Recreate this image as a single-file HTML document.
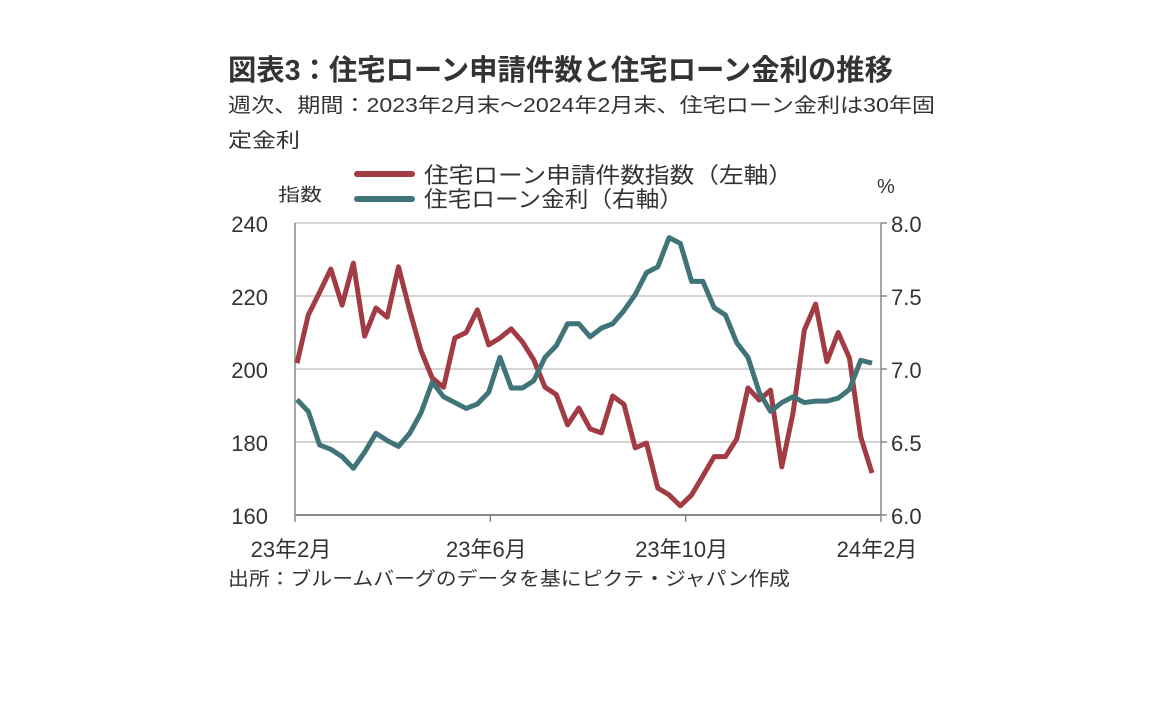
<!DOCTYPE html>
<html><head><meta charset="utf-8"><style>
html,body{margin:0;padding:0;background:#fff;}
svg text{font-family:"Liberation Sans","Noto Sans CJK JP",sans-serif;fill:#333;}
</style></head><body>
<svg id="chart" width="1152" height="720" xmlns="http://www.w3.org/2000/svg">
<text x="228" y="80" font-size="29" font-weight="bold" textLength="665" lengthAdjust="spacingAndGlyphs">図表3：住宅ローン申請件数と住宅ローン金利の推移</text>
<text x="228" y="112" font-size="20" textLength="707" lengthAdjust="spacingAndGlyphs">週次、期間：2023年2月末～2024年2月末、住宅ローン金利は30年固</text>
<text x="228" y="147" font-size="20" textLength="72" lengthAdjust="spacingAndGlyphs">定金利</text>
<line x1="357" y1="174" x2="412" y2="174" stroke="#a23c44" stroke-width="6" stroke-linecap="round"/>
<text x="424" y="183" font-size="22" textLength="369" lengthAdjust="spacingAndGlyphs">住宅ローン申請件数指数（左軸）</text>
<line x1="357" y1="199" x2="412" y2="199" stroke="#3f7478" stroke-width="6" stroke-linecap="round"/>
<text x="424" y="207" font-size="22" textLength="259" lengthAdjust="spacingAndGlyphs">住宅ローン金利（右軸）</text>
<text x="278" y="201" font-size="18" textLength="44" lengthAdjust="spacingAndGlyphs">指数</text>
<text x="877" y="193" font-size="20">%</text>
<g id="grid"></g>
<g id="axes"></g>
<g id="series"></g>
<text x="228" y="585" font-size="19" textLength="562" lengthAdjust="spacingAndGlyphs">出所：ブルームバーグのデータを基にピクテ・ジャパン作成</text>
</svg>
<script>
const applications=[201.6,214.8,221,227.4,217.5,229,209,216.7,214.2,228,216,205,197.5,195,208.5,210,216.2,206.6,208.5,211,207.4,202.5,195,193,184.7,189.3,183.6,182.5,192.6,190.3,178.4,179.7,167.4,165.5,162.5,165.5,170.7,176,176,180.8,194.8,191.5,194.2,173.2,188,210.7,217.8,202,210,203,181.4,171.5];
const rates=[6.79,6.71,6.48,6.45,6.40,6.32,6.43,6.56,6.51,6.47,6.56,6.70,6.91,6.81,6.77,6.73,6.76,6.84,7.08,6.87,6.87,6.92,7.08,7.16,7.31,7.31,7.22,7.28,7.31,7.40,7.51,7.66,7.70,7.90,7.86,7.60,7.60,7.42,7.37,7.18,7.08,6.84,6.71,6.77,6.81,6.77,6.78,6.78,6.80,6.86,7.06,7.04];
const leftTicks=[160,180,200,220,240];
const rightTicks=["6.0","6.5","7.0","7.5","8.0"];
const xLabels=["23年2月","23年6月","23年10月","24年2月"];
const NS="http://www.w3.org/2000/svg";
const X0=295,X1=881,Y0=515,Y1=223;
const yL=v=>Y0-(v-160)/80*(Y0-Y1);
const yR=v=>Y0-(v-6)/2*(Y0-Y1);
const n=applications.length;
const xi=i=>297+i*(872-297)/(n-1);
function mk(tag,attrs,parent){const e=document.createElementNS(NS,tag);for(const k in attrs)e.setAttribute(k,attrs[k]);parent.appendChild(e);return e;}
const grid=document.getElementById('grid'),axes=document.getElementById('axes'),series=document.getElementById('series');
leftTicks.forEach((t,i)=>{
  const y=yL(t);
  if(i>0){const g=mk('line',{x1:X0,x2:X1,y1:y,y2:y,stroke:'#d4d4d4','stroke-width':2},grid);
  
  }
  const tl=mk('text',{x:268,y:y+9,'font-size':22,'text-anchor':'end'},axes);tl.textContent=t;
  
  
  const tr=mk('text',{x:891,y:y+9,'font-size':22},axes);tr.textContent=rightTicks[i];
  
  
  const tk=mk('line',{x1:X1,x2:X1+6,y1:y,y2:y,stroke:'#888','stroke-width':1.5},axes);
  
  
});
let a=mk('line',{x1:X0,x2:X0,y1:Y1,y2:Y0,stroke:'#888','stroke-width':1.5},axes);


a=mk('line',{x1:X1,x2:X1,y1:Y1,y2:Y0,stroke:'#888','stroke-width':1.5},axes);


a=mk('line',{x1:X0,x2:X1,y1:Y0,y2:Y0,stroke:'#888','stroke-width':2},axes);


const xPos=[0,1,2,3].map(k=>X0+k*(X1-X0)/3);
xLabels.forEach((l,k)=>{
  const x=xPos[k];
  const tk=mk('line',{x1:x,x2:x,y1:Y0,y2:Y0+7,stroke:'#888','stroke-width':1.5},axes);
  
  
  const t=mk('text',{x:x-4+(k===3?0:0),y:557,'font-size':22,'text-anchor':'middle'},axes);t.textContent=l;
  
  
});
const p1=mk('polyline',{points:applications.map((v,i)=>xi(i)+','+yL(v)).join(' '),fill:'none',stroke:'#a23c44','stroke-width':5,'stroke-linejoin':'round'},series);


const p2=mk('polyline',{points:rates.map((v,i)=>xi(i)+','+yR(v)).join(' '),fill:'none',stroke:'#3f7478','stroke-width':5,'stroke-linejoin':'round'},series);


</script>
</body></html>
